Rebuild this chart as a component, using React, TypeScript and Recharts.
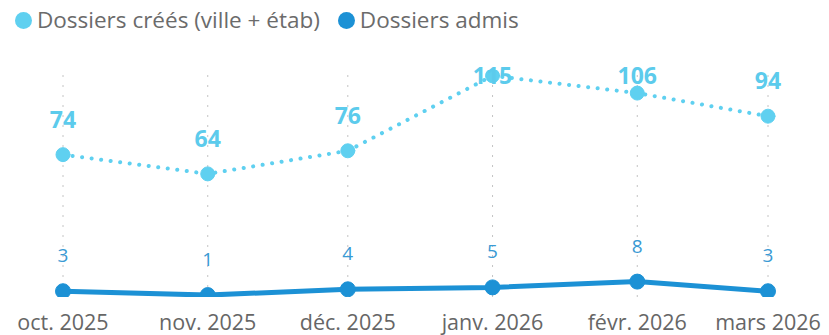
import { LineChart, Line, XAxis, YAxis, ReferenceLine, LabelList } from 'recharts'

// axe temporel continu : un point au 1er de chaque mois
const monthDates = ['2025-10-01', '2025-11-01', '2025-12-01', '2026-01-01', '2026-02-01', '2026-03-01']
const months = ['oct. 2025', 'nov. 2025', 'déc. 2025', 'janv. 2026', 'févr. 2026', 'mars 2026']
const dossiersCrees = [74, 64, 76, 115, 106, 94]
const dossiersAdmis = [3, 1, 4, 5, 8, 3]

const DAY = 86400000
const t0 = Date.parse(monthDates[0])
const days = monthDates.map(d => Math.round((Date.parse(d) - t0) / DAY))

const data = months.map((m, i) => ({ day: days[i], month: m, crees: dossiersCrees[i], admis: dossiersAdmis[i] }))

const FONT = '"Open Sans", "Noto Sans", sans-serif'
const LIGHT = '#5fd0f0'
const DARK = '#1c91d5'

function makeLabel(color: string, size: number, weight: number, minY: number) {
  return (props: any) => {
    const { x, y, value } = props
    const ty = Math.max(y - 36, minY)
    return (
      <text x={x} y={ty} textAnchor="middle" dominantBaseline="central"
        fill={color} fontSize={size} fontWeight={weight} fontFamily={FONT}>
        {value}
      </text>
    )
  }
}

function TopLegend() {
  const items = [
    { label: 'Dossiers créés (ville + étab)', color: LIGHT },
    { label: 'Dossiers admis', color: DARK },
  ]
  return (
    <div style={{ position: 'absolute', top: 6, left: 15, display: 'flex', alignItems: 'center', fontFamily: FONT, fontSize: 22.5, color: '#6b6b6b', lineHeight: '28px' }}>
      {items.map(it => (
        <div key={it.label} style={{ display: 'flex', alignItems: 'center', marginRight: 18 }}>
          <span style={{ width: 17, height: 17, borderRadius: '50%', background: it.color, display: 'inline-block', marginRight: 5 }} />
          <span>{it.label}</span>
        </div>
      ))}
    </div>
  )
}

export default function App() {
  return (
    <div style={{ position: 'absolute', top: 0, left: 0, width: 829, height: 335, background: '#fff' }}>
      <LineChart width={829} height={335} data={data} margin={{ top: 70, right: 0, bottom: 7, left: 0 }}>
        <XAxis dataKey="day" type="number" domain={[days[0], days[days.length - 1]]} ticks={days}
          tickFormatter={(v: number) => months[days.indexOf(v)]}
          axisLine={false} tickLine={false} height={31} tickMargin={12}
          padding={{ left: 63, right: 61 }} interval={0}
          tick={{ fontSize: 21.5, fill: '#666', fontFamily: FONT }} />
        <YAxis hide domain={[0, 118]} allowDataOverflow />
        {days.map(d => (
          <ReferenceLine key={d} x={d} stroke="#c4c4c4" strokeDasharray="2 8" />
        ))}
        <Line dataKey="crees" stroke={LIGHT} strokeWidth={4} strokeDasharray="0.1 9.5" strokeLinecap="round"
          dot={{ r: 7, fill: LIGHT, stroke: LIGHT, strokeWidth: 1, strokeDasharray: '' }} activeDot={false}
          isAnimationActive={false}>
          <LabelList dataKey="crees" content={makeLabel('#5ccbec', 23, 700, 75)} />
        </Line>
        <Line dataKey="admis" stroke={DARK} strokeWidth={5}
          dot={{ r: 7.5, fill: DARK, stroke: DARK, strokeWidth: 1 }} activeDot={false}
          isAnimationActive={false}>
          <LabelList dataKey="admis" content={makeLabel('#3a9ad4', 19, 400, 0)} />
        </Line>
      </LineChart>
      <TopLegend />
    </div>
  )
}
